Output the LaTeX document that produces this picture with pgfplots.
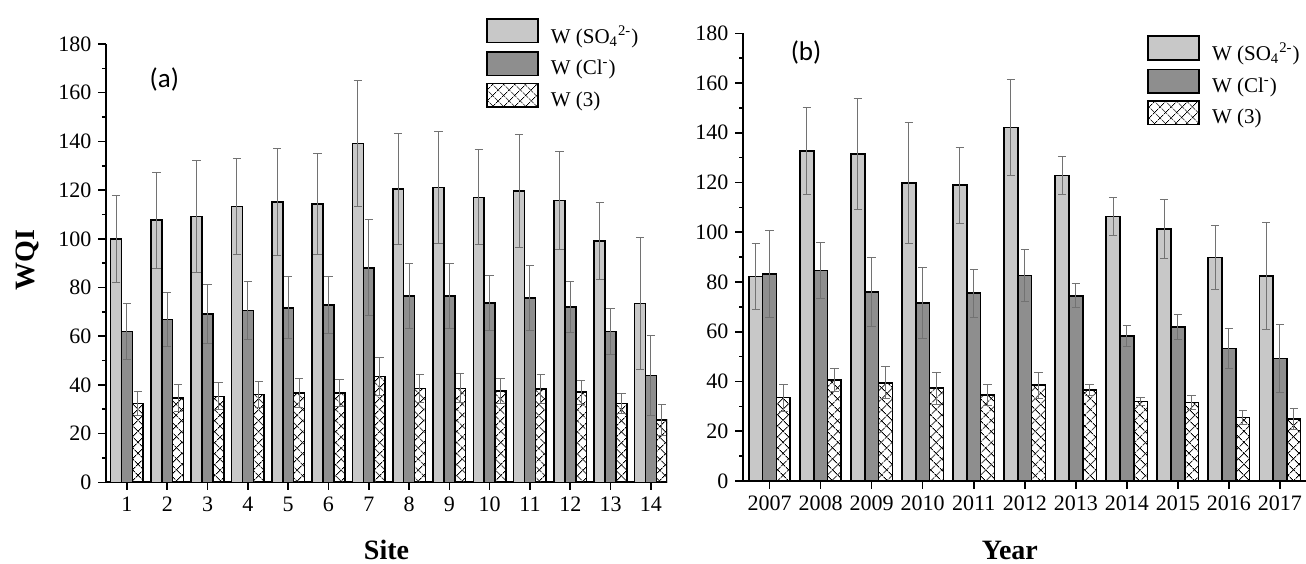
\documentclass[border=0pt]{standalone}
\usepackage{fontspec}
\setmainfont{Liberation Serif}
\newfontfamily\panelfont{Carlito}
\usepackage{pgfplots}
\pgfplotsset{compat=1.18}
\usepackage{pgfplotstable}
\usetikzlibrary{patterns.meta}

\definecolor{lightbar}{HTML}{C8C8C8}
\definecolor{darkbar}{HTML}{8E8E8E}
\definecolor{errgray}{HTML}{727272}

% WQI by site: value and error for each index
\pgfplotstableread{
x  so4   so4e  cl    cle   w3    w3e
1  99.8  17.8  61.9  11.5  32.3  5.0
2  107.7 19.7  66.8  11.2  34.5  5.6
3  109.1 23.0  69.0  12.2  35.3  5.6
4  113.2 19.8  70.5  12.0  36.0  5.3
5  115.2 22.0  71.7  12.7  36.7  5.8
6  114.2 20.8  72.8  11.8  36.7  5.5
7  139.2 26.0  88.1  19.8  43.5  7.7
8  120.5 22.7  76.4  13.4  38.6  5.8
9  121.0 23.0  76.5  13.4  38.6  6.0
10 117.0 19.5  73.6  11.4  37.4  5.1
11 119.6 23.3  75.7  13.3  38.3  5.9
12 115.8 20.0  72.1  10.4  37.0  4.9
13 99.2  15.8  61.9  9.4   32.3  4.2
14 73.5  27.0  43.9  16.3  25.6  6.4
}\sitedata

% WQI by year (x = 0 is 2007)
\pgfplotstableread{
x  so4   so4e  cl    cle   w3    w3e
0  82.2  13.4  83.2  17.6  33.5  5.5
1  132.7 17.4  84.6  11.4  40.6  4.8
2  131.4 22.3  76.0  13.9  39.5  6.4
3  119.8 24.3  71.6  14.3  37.3  6.4
4  118.9 15.3  75.5  9.6   34.6  4.1
5  142.1 19.3  82.7  10.5  38.5  5.2
6  122.8 7.6   74.5  4.8   36.5  2.2
7  106.3 7.6   58.3  4.3   31.9  1.6
8  101.3 11.7  61.9  5.1   31.6  2.7
9  89.9  12.8  53.2  8.0   25.5  2.9
10 82.4  21.5  49.3  13.6  24.9  4.3
}\yeardata

\pgfplotsset{
  wqi/.style={
    scale only axis,
    ybar, bar width=0.27,
    ymin=0, ymax=180,
    ytick={0,20,...,180}, minor y tick num=1,
    axis x line=bottom, axis y line=left,
    axis line style={-, line width=1pt},
    tick align=outside,
    major tick length=3.8pt, minor tick length=2pt,
    tick style={black, line width=0.8pt},
    tick label style={font=\fontsize{11}{13}\selectfont},
    /pgf/number format/assume math mode=true,
    label style={font=\bfseries\fontsize{14}{16}\selectfont},
    legend image code/.code={\draw[##1] (0pt,-3.4pt) rectangle (25.5pt,8.4pt);},
    legend cell align=left,
    legend style={draw=none, fill=none, inner sep=0pt, row sep=2.6pt,
      font=\fontsize{10.5}{12}\selectfont,
      nodes={inner sep=0pt},
      /tikz/every odd column/.append style={column sep=6pt}},
  },
  bar err/.style={
    error bars/.cd, y dir=both, y explicit,
    error bar style={draw=errgray, line width=0.5pt},
    error mark options={rotate=90, draw=errgray, mark size=2.1pt, line width=0.5pt},
  },
  so4 bar/.style={fill=lightbar, draw=black, line width=0.8pt, bar shift=-0.27},
  cl bar/.style={fill=darkbar, draw=black, line width=0.8pt, bar shift=0},
  w3 bar/.style={draw=black, line width=0.8pt, bar shift=0.27,
    pattern={Lines[angle=45, distance=4pt, line width=0.45pt]},
    postaction={pattern={Lines[angle=-45, distance=4pt, line width=0.45pt]}}},
}

\begin{document}
\begin{tikzpicture}
\useasboundingbox (0,0) rectangle (653pt,281.5pt);

\begin{axis}[
    wqi,
    at={(53pt,40.35pt)}, anchor=south west,
    width=280.5pt, height=219.15pt,
    xmin=0.48, xmax=14.4,
    xtick={1,...,14},
    xlabel={Site},
    xlabel style={at={(axis description cs:0.5,-0.1757)}, anchor=base},
    ylabel={WQI},
    ylabel style={at={(axis description cs:-0.1266,0.507)}, anchor=base},
    legend style={at={(rel axis cs:0.677,1.06)}, anchor=north west},
]
\addplot[so4 bar, bar err] table[x=x, y=so4, y error=so4e] {\sitedata};
\addplot[cl bar, bar err] table[x=x, y=cl, y error=cle] {\sitedata};
\addplot[w3 bar, bar err] table[x=x, y=w3, y error=w3e] {\sitedata};
\legend{W (SO\textsubscript{4}\textsuperscript{2-}), W (Cl\textsuperscript{-}), W (3)}
\node[font=\panelfont\fontsize{13.5}{16}\selectfont] at (rel axis cs:0.104,0.920) {(a)};
\end{axis}

\begin{axis}[
    wqi,
    at={(371.5pt,41pt)}, anchor=south west,
    width=281.5pt, height=223.85pt,
    xmin=-0.52, xmax=10.51,
    xtick={0,...,10},
    xticklabels={2007,2008,2009,2010,2011,2012,2013,2014,2015,2016,2017},
    xlabel={Year},
    xlabel style={at={(axis description cs:0.474,-0.175)}, anchor=base},
    legend style={at={(rel axis cs:0.7176,0.996)}, anchor=north west},
]
\addplot[so4 bar, bar err] table[x=x, y=so4, y error=so4e] {\yeardata};
\addplot[cl bar, bar err] table[x=x, y=cl, y error=cle] {\yeardata};
\addplot[w3 bar, bar err] table[x=x, y=w3, y error=w3e] {\yeardata};
\legend{W (SO\textsubscript{4}\textsuperscript{2-}), W (Cl\textsuperscript{-}), W (3)}
\node[font=\panelfont\fontsize{13.5}{16}\selectfont] at (rel axis cs:0.112,0.957) {(b)};
\end{axis}
\end{tikzpicture}
\end{document}
